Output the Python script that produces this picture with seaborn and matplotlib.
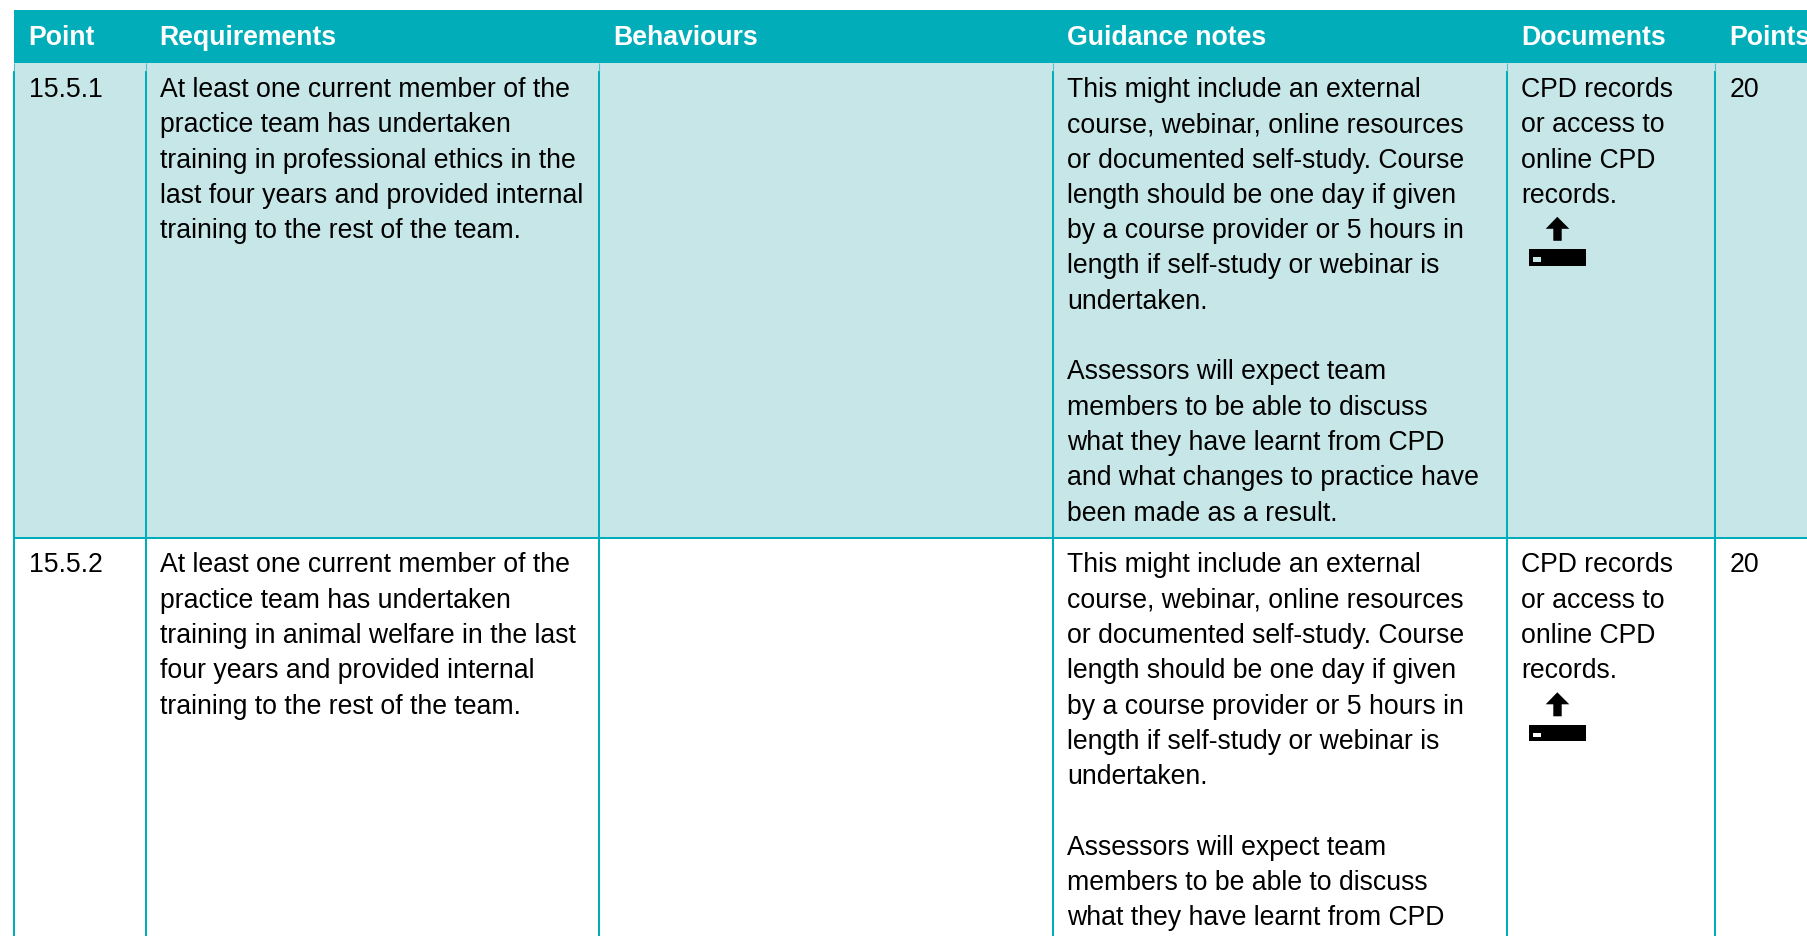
import numpy as np
import matplotlib
matplotlib.use("Agg")
import matplotlib.pyplot as plt
from matplotlib.colors import ListedColormap
import seaborn as sns

W, H = 1807, 937

# table contents
headers = ["Point", "Requirements", "Behaviours", "Guidance notes", "Documents", "Points"]
points = ["15.5.1", "15.5.2"]
scores = ["20", "20"]
req_1 = ["At least one current member of the", "practice team has undertaken",
         "training in professional ethics in the", "last four years and provided internal",
         "training to the rest of the team."]
req_2 = ["At least one current member of the", "practice team has undertaken",
         "training in animal welfare in the last", "four years and provided internal",
         "training to the rest of the team."]
guidance = ["This might include an external", "course, webinar, online resources",
            "or documented self-study. Course", "length should be one day if given",
            "by a course provider or 5 hours in", "length if self-study or webinar is",
            "undertaken.", "", "Assessors will expect team",
            "members to be able to discuss", "what they have learnt from CPD",
            "and what changes to practice have", "been made as a result."]
documents = ["CPD records", "or access to", "online CPD", "records."]
requirements = [req_1, req_2]

# layout in pixels
col_lines = [14, 146, 599, 1053, 1507, 1715]
col_text = [29, 160, 614, 1067, 1521, 1730]
head_text = [28, 159.5, 613, 1067.5, 1521, 1729]
band_tops = [11, 64, 539]
band_ends = [64, 539, 937]
band_vals = [0, 1, 2]
row_base = [97, 572.5]
pitch = 35.3
teal = "#00ADB9"
pale = "#C7E6E8"
rule = "#00AEBB"

sns.set_theme(style="white")
plt.rcParams["font.family"] = ["Liberation Sans", "DejaVu Sans"]

fig = plt.figure(figsize=(W / 100, H / 100), dpi=100, facecolor="white")

# header and row bands as one-cell heatmaps
cmap = ListedColormap([teal, pale, "white"])
for top, end, val in zip(band_tops, band_ends, band_vals):
    band = fig.add_axes([13.5 / W, 1 - end / H, (W - 13.5) / W, (end - top) / H])
    sns.heatmap(np.array([[val]]), ax=band, cmap=cmap, vmin=0, vmax=2, cbar=False,
                xticklabels=False, yticklabels=False)

ax = fig.add_axes([0, 0, 1, 1], facecolor="none")
ax.set_xlim(0, W)
ax.set_ylim(H, 0)
ax.axis("off")

ax.vlines(col_lines, 72, H, color=rule, lw=1.45)
ax.vlines(col_lines, 64, 72, color="#4FC4CE", lw=0.8)
ax.hlines(539, 13.5, W, color=rule, lw=1.45)

size = 19.15
for x, label in zip(head_text, headers):
    ax.text(x, 45, label, color="white", fontsize=size, fontweight="bold", va="baseline")


def draw_lines(x, y0, lines):
    for i, line in enumerate(lines):
        y = y0 + i * pitch
        # rows run on past the bottom of the page
        if y - 20 < H:
            ax.text(x, y, line, color="black", fontsize=size, va="baseline")


def draw_icon(dy, slot):
    ax.fill([1557.3, 1569.3, 1561.7, 1561.7, 1553.3, 1553.3, 1545.7],
            [217.8 + dy, 229.8 + dy, 229.8 + dy, 241.8 + dy, 241.8 + dy, 229.8 + dy, 229.8 + dy],
            color="black", lw=0)
    ax.fill([1528.7, 1586, 1586, 1528.7], [250 + dy, 250 + dy, 266.5 + dy, 266.5 + dy],
            color="black", lw=0)
    ax.fill([1533.3, 1541.3, 1541.3, 1533.3], [258 + dy, 258 + dy, 262.5 + dy, 262.5 + dy],
            color=slot, lw=0)


slot_colors = [pale, "white"]
for r, y0 in enumerate(row_base):
    draw_lines(col_text[0], y0, [points[r]])
    draw_lines(col_text[1], y0, requirements[r])
    draw_lines(col_text[3], y0, guidance)
    draw_lines(col_text[4], y0, documents)
    draw_lines(col_text[5], y0, [scores[r]])
    draw_icon(y0 - row_base[0], slot_colors[r])

fig.savefig("out.png", dpi=100, facecolor="white")
